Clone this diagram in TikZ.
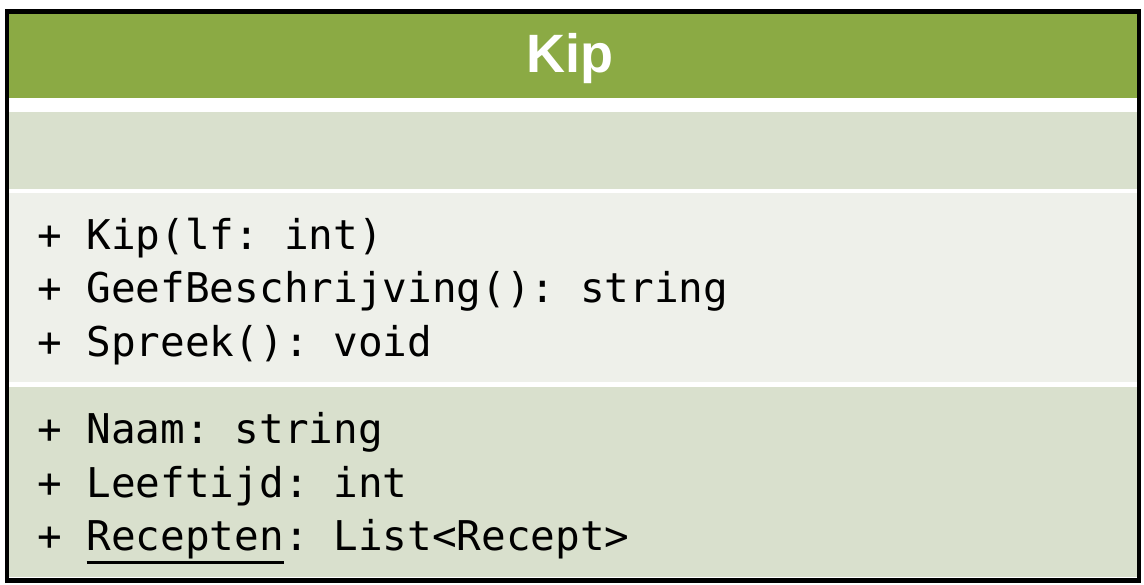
\documentclass[tikz,border=0pt]{standalone}
\usepackage{fontspec}
\setmainfont{Liberation Sans}
\setmonofont{DejaVu Sans Mono}
\definecolor{hdr}{HTML}{8BAA44}
\definecolor{secA}{HTML}{D9E0CD}
\definecolor{secB}{HTML}{EEF0EA}
\newcommand\ulthick[1]{\setbox0\hbox{#1}\rlap{\rule[-14pt]{\wd0}{2.6pt}}\box0}
\tikzset{
  band/.style={fill=#1, draw=none},
  member/.style={anchor=base west, inner sep=0pt, font=\ttfamily\fontsize{41}{48}\selectfont, text=black},
  title/.style={inner sep=0pt, font=\bfseries\fontsize{54}{60}\selectfont, text=white}
}
\begin{document}
\begin{tikzpicture}[x=1pt,y=-1pt]
\useasboundingbox (0,0) rectangle (1144,585);
\fill[white] (0,0) rectangle (1144,585);
% bands
\fill[band=hdr] (5,9) rectangle (1137,98);
\fill[band=secA] (5,112) rectangle (1137,189);
\fill[band=secB] (5,193) rectangle (1137,382);
\fill[band=secA] (5,387) rectangle (1137,577);
% outer frame
\node[draw=black, line width=4.5pt, minimum width=1132pt, minimum height=569pt, inner sep=0pt, anchor=north west] (frame) at (4.75,9.25) {};
% title
\node[title] (title) at (570,59) {Kip};
% operations
\node[member] (m1) at (37,250) {+ Kip(lf: int)};
\node[member] (m2) at (37,303) {+ GeefBeschrijving(): string};
\node[member] (m3) at (37,357) {+ Spreek(): void};
% attributes
\node[member] (a1) at (37,443) {+ Naam: string};
\node[member] (a2) at (37,497) {+ Leeftijd: int};
\node[member] (a3) at (37,550) {+ \ulthick{Recepten}: List<Recept>};
\end{tikzpicture}
\end{document}
